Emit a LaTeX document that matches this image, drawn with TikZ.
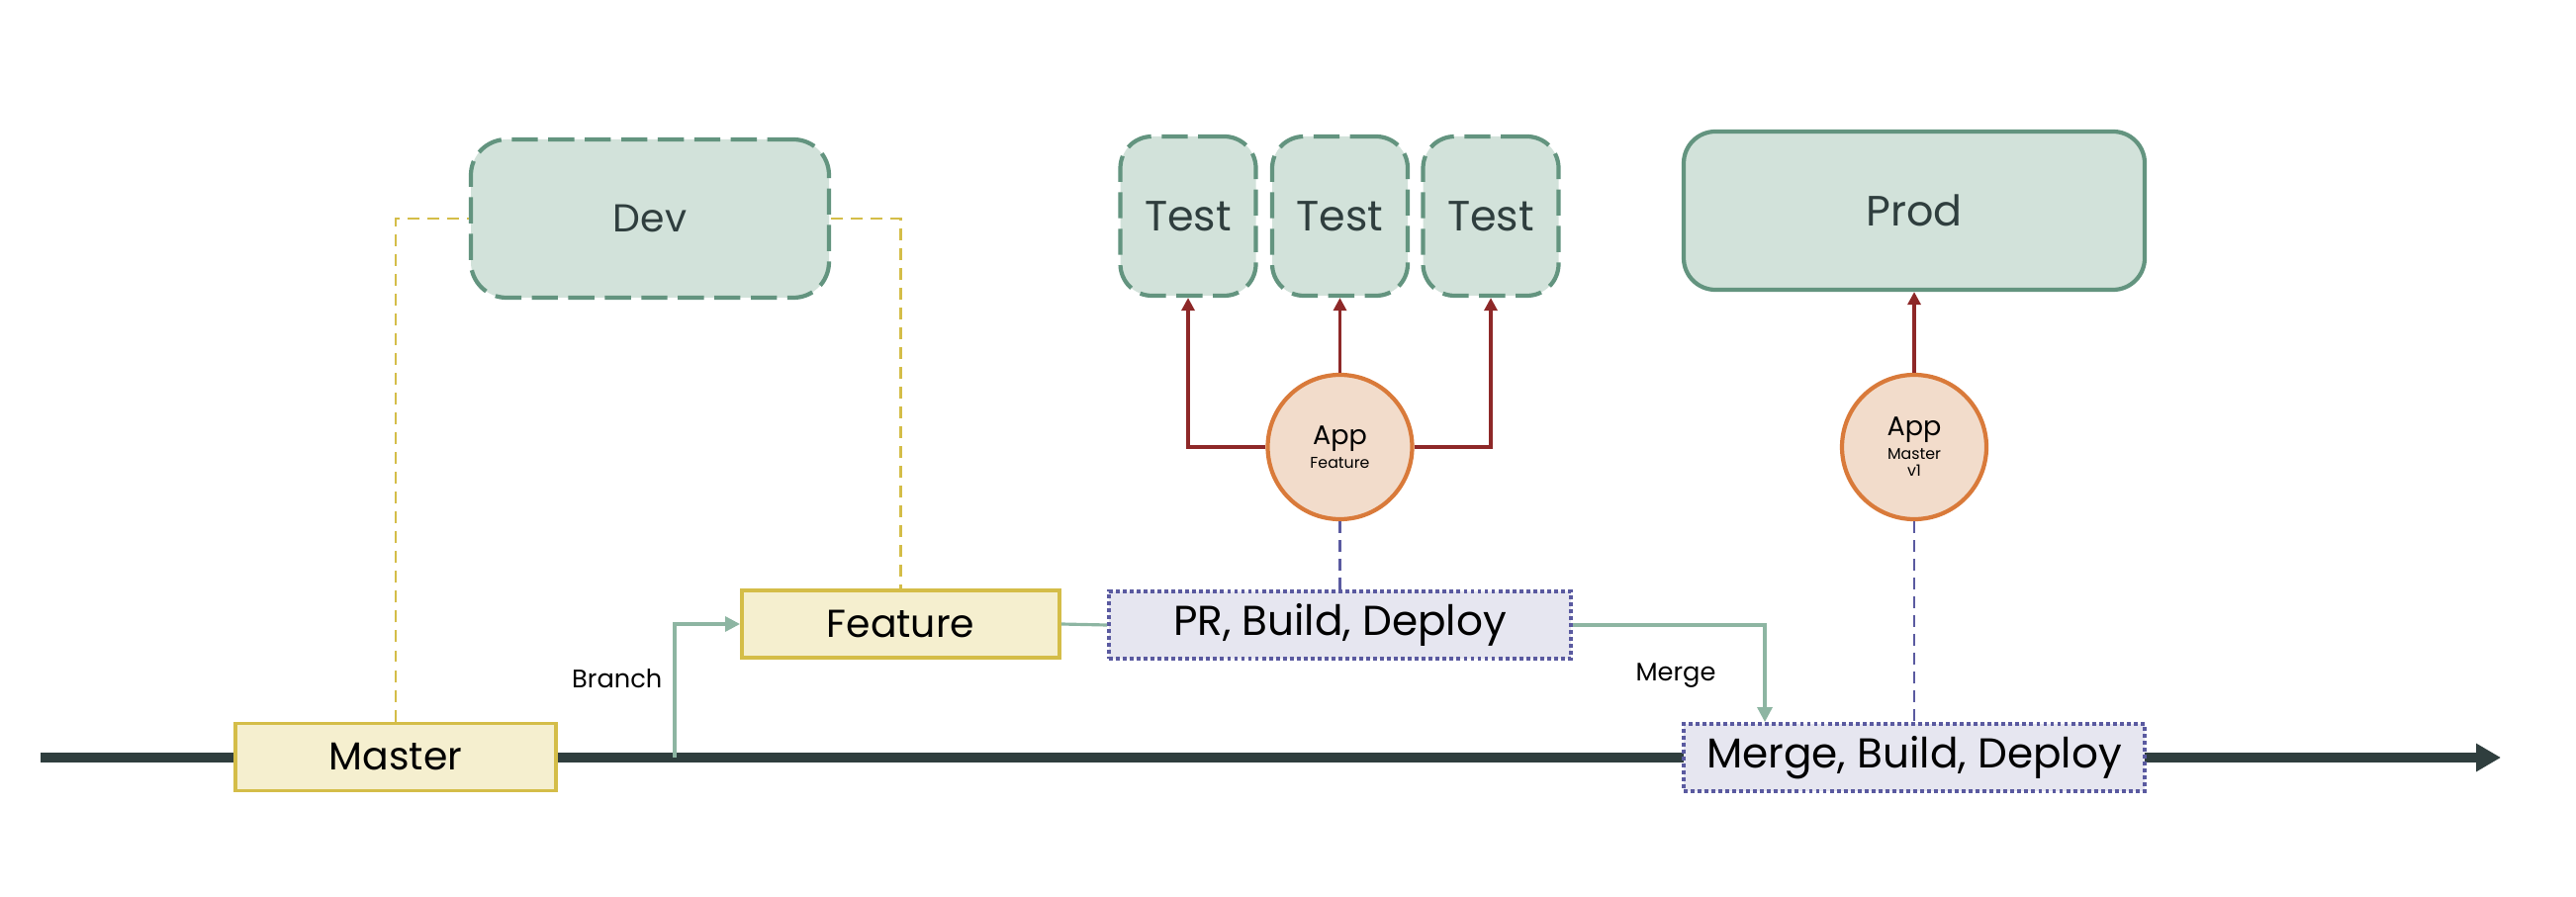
\documentclass[tikz,border=0pt]{standalone}
\usepackage{fontspec}
\setmainfont{Poppins}
\usetikzlibrary{arrows.meta}
\definecolor{envfill}{HTML}{D2E2DA}
\definecolor{envline}{HTML}{63947F}
\definecolor{txtdark}{HTML}{2F3E3E}
\definecolor{brfill}{HTML}{F5EFCF}
\definecolor{brline}{HTML}{D4BD48}
\definecolor{stfill}{HTML}{E6E6F0}
\definecolor{stline}{HTML}{5A5AA0}
\definecolor{appfill}{HTML}{F2DCCB}
\definecolor{appline}{HTML}{D97A3A}
\definecolor{deployred}{HTML}{8E2828}
\definecolor{flowgreen}{HTML}{8DB5A2}
\newcommand{\appbig}{\fontsize{7.7}{9}\selectfont}
\newcommand{\appsmall}{\fontsize{4.5}{4.9}\selectfont}
\tikzset{
  envbox/.style={draw=envline,fill=envfill,line width=1.2pt,rounded corners=0.32cm,
    text=txtdark,font=\fontsize{12.2}{14}\selectfont,inner sep=0pt},
  envdash/.style={envbox,dash pattern=on 7.5pt off 3pt},
  branchbox/.style={draw=brline,fill=brfill,line width=1.1pt,minimum height=0.68cm,
    font=\fontsize{11.2}{13}\selectfont,inner sep=0pt},
  stepbox/.style={draw=stline,fill=stfill,line width=1.1pt,dash pattern=on 1.1pt off 0.9pt,
    minimum height=0.68cm,font=\fontsize{12}{14}\selectfont,inner sep=0pt},
  appnode/.style={circle,draw=appline,fill=appfill,line width=1.2pt,minimum size=1.46cm,
    inner sep=0pt,align=center,font=\appsmall},
  trunk/.style={draw=txtdark,line width=2.6pt,-{Triangle[length=2.5mm,width=2.7mm]}},
  deploy/.style={draw=deployred,line width=0.9pt,-{Triangle[length=1.3mm,width=1.3mm]}},
  flow/.style={draw=flowgreen,line width=0.9pt},
  link/.style={draw=brline,line width=0.7pt,dash pattern=on 3.4pt off 2.3pt},
  tie/.style={draw=stline,line width=0.7pt,dash pattern=on 3.4pt off 2pt},
  small/.style={font=\fontsize{7.3}{9}\selectfont,inner sep=0pt}
}
\begin{document}
\begin{tikzpicture}
\useasboundingbox (0,0) rectangle (26.04,9.06);
\draw[trunk] (0.41,1.40) -- (25.28,1.40);
\node[branchbox,minimum width=3.24cm] (master) at (4.00,1.405) {Master};
\node[branchbox,minimum width=3.21cm] (feature) at (9.105,2.75) {Feature};
\node[stepbox,minimum width=4.67cm] (pr) at (13.545,2.74) {PR, Build, Deploy};
\node[stepbox,minimum width=4.66cm] (merge) at (19.35,1.40) {Merge, Build, Deploy};
\node[envdash,minimum width=3.62cm,minimum height=1.60cm,rounded corners=0.36cm,
  font=\fontsize{11.2}{13}\selectfont] (dev) at (6.57,6.85) {Dev};
\node[envdash,minimum width=1.37cm,minimum height=1.61cm] (test1) at (12.01,6.875) {Test};
\node[envdash,minimum width=1.37cm,minimum height=1.61cm] (test2) at (13.545,6.875) {Test};
\node[envdash,minimum width=1.37cm,minimum height=1.61cm] (test3) at (15.07,6.875) {Test};
\node[envbox,minimum width=4.66cm,minimum height=1.60cm] (prod) at (19.35,6.93) {Prod};
\node[appnode] (appf) at (13.545,4.54) {{\appbig App}\\[0.6pt]Feature};
\node[appnode] (appm) at (19.35,4.54) {{\appbig App}\\[0.6pt]Master\\v1};
\coordinate (fork) at (6.82,1.40);
\node[small,anchor=east] (branchlbl) at (6.70,2.20) {Branch};
\node[small] (mergelbl) at (16.94,2.23) {Merge};
\draw[link] (master.north) |- (dev.west);
\draw[link] (dev.east) -| (feature.north);
\draw[flow,-{Triangle[length=1.5mm,width=1.5mm]}] (fork) |- (feature.west);
\draw[flow] (feature.east) -- (pr.west);
\draw[flow,-{Triangle[length=1.5mm,width=1.5mm]}] (pr.east) -| ([xshift=-1.51cm]merge.north);
\draw[tie] (appf.south) -- (pr.north);
\draw[tie] (appm.south) -- (merge.north);
\draw[deploy] (appf.west) -| (test1.south);
\draw[deploy] (appf.north) -- (test2.south);
\draw[deploy] (appf.east) -| (test3.south);
\draw[deploy] (appm.north) -- (prod.south);
\end{tikzpicture}
\end{document}
